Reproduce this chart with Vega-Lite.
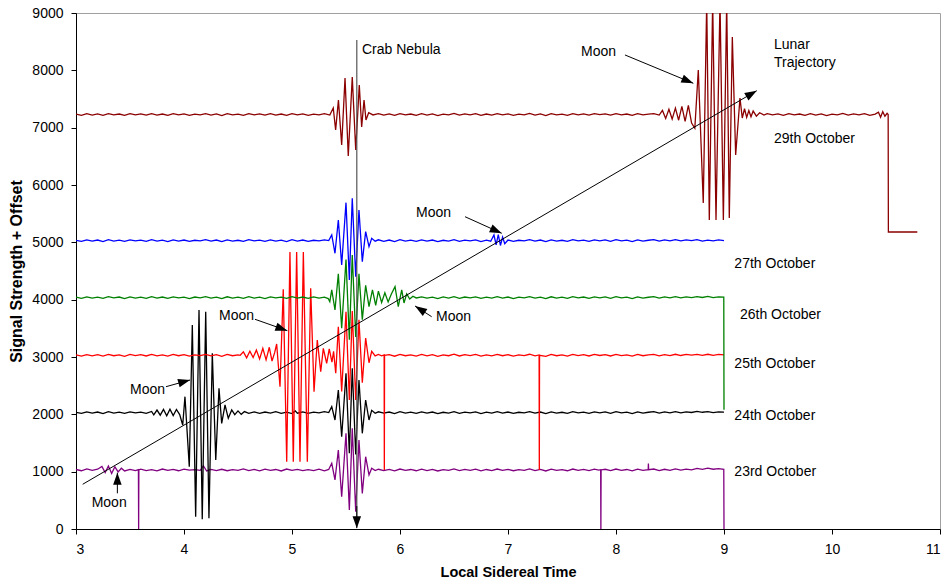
{
"$schema":"https://vega.github.io/schema/vega-lite/v6.json",
"width":864,"height":516,
"autosize":"none",
"padding":{"left":76,"top":13,"right":8,"bottom":57},
"config":{"view":{"stroke":"#a0a0a0","strokeWidth":1},"font":"Liberation Sans",
"axis":{"grid":false,"domainColor":"#000","tickColor":"#000","labelColor":"#000","titleColor":"#000","tickSize":5,"labelFont":"Liberation Sans","titleFont":"Liberation Sans","labelFontSize":14,"titleFontWeight":"bold"}},
"datasets":{
"signal":[
{"s":"23","t":3.00,"v":1038},{"s":"23","t":3.05,"v":1016},{"s":"23","t":3.10,"v":1048},{"s":"23","t":3.15,"v":1024},{"s":"23","t":3.20,"v":1042},
{"s":"23","t":3.24,"v":1090},{"s":"23","t":3.27,"v":985},{"s":"23","t":3.30,"v":1100},{"s":"23","t":3.33,"v":970},{"s":"23","t":3.36,"v":1085},{"s":"23","t":3.39,"v":995},{"s":"23","t":3.42,"v":1060},{"s":"23","t":3.45,"v":1012},
{"s":"23","t":3.50,"v":1040},{"s":"23","t":3.55,"v":1018},{"s":"23","t":3.578,"v":1034},{"s":"23","t":3.58,"v":0},{"s":"23","t":3.582,"v":1030},
{"s":"23","t":3.60,"v":1044},{"s":"23","t":3.65,"v":1020},{"s":"23","t":3.70,"v":1036},{"s":"23","t":3.75,"v":1014},{"s":"23","t":3.80,"v":1046},{"s":"23","t":3.85,"v":1022},{"s":"23","t":3.90,"v":1040},{"s":"23","t":3.95,"v":1016},{"s":"23","t":4.00,"v":1044},{"s":"23","t":4.05,"v":1026},{"s":"23","t":4.10,"v":1034},{"s":"23","t":4.15,"v":1024},{"s":"23","t":4.18,"v":1100},{"s":"23","t":4.21,"v":1012},{"s":"23","t":4.25,"v":1040},{"s":"23","t":4.30,"v":1020},{"s":"23","t":4.35,"v":1042},{"s":"23","t":4.40,"v":1016},{"s":"23","t":4.45,"v":1036},{"s":"23","t":4.50,"v":1022},{"s":"23","t":4.55,"v":1048},{"s":"23","t":4.60,"v":1020},{"s":"23","t":4.65,"v":1040},{"s":"23","t":4.70,"v":1014},{"s":"23","t":4.75,"v":1044},{"s":"23","t":4.80,"v":1024},{"s":"23","t":4.85,"v":1038},{"s":"23","t":4.90,"v":1012},{"s":"23","t":4.95,"v":1046},{"s":"23","t":5.00,"v":1022},{"s":"23","t":5.05,"v":1040},{"s":"23","t":5.10,"v":1018},{"s":"23","t":5.15,"v":1036},{"s":"23","t":5.20,"v":1020},{"s":"23","t":5.25,"v":1044},{"s":"23","t":5.30,"v":1016},{"s":"23","t":5.34,"v":1038},
{"s":"23","t":5.368,"v":1146},{"s":"23","t":5.398,"v":855},{"s":"23","t":5.429,"v":1378},{"s":"23","t":5.460,"v":563},{"s":"23","t":5.500,"v":1669},{"s":"23","t":5.531,"v":331},{"s":"23","t":5.558,"v":1757},{"s":"23","t":5.590,"v":302},{"s":"23","t":5.620,"v":1552},{"s":"23","t":5.651,"v":622},{"s":"23","t":5.682,"v":1261},{"s":"23","t":5.713,"v":942},{"s":"23","t":5.738,"v":1060},
{"s":"23","t":5.77,"v":1018},{"s":"23","t":5.80,"v":1042},{"s":"23","t":5.85,"v":1020},{"s":"23","t":5.90,"v":1040},{"s":"23","t":5.95,"v":1014},{"s":"23","t":6.00,"v":1046},{"s":"23","t":6.05,"v":1022},{"s":"23","t":6.10,"v":1038},{"s":"23","t":6.15,"v":1016},{"s":"23","t":6.20,"v":1044},{"s":"23","t":6.25,"v":1020},{"s":"23","t":6.30,"v":1040},{"s":"23","t":6.35,"v":1012},{"s":"23","t":6.40,"v":1036},{"s":"23","t":6.45,"v":1022},{"s":"23","t":6.50,"v":1048},{"s":"23","t":6.55,"v":1018},{"s":"23","t":6.60,"v":1040},{"s":"23","t":6.65,"v":1024},{"s":"23","t":6.70,"v":1044},{"s":"23","t":6.75,"v":1014},{"s":"23","t":6.80,"v":1038},{"s":"23","t":6.85,"v":1020},{"s":"23","t":6.90,"v":1046},{"s":"23","t":6.95,"v":1022},{"s":"23","t":7.00,"v":1040},{"s":"23","t":7.05,"v":1016},{"s":"23","t":7.10,"v":1036},{"s":"23","t":7.15,"v":1024},{"s":"23","t":7.20,"v":1048},{"s":"23","t":7.25,"v":1020},{"s":"23","t":7.30,"v":1040},{"s":"23","t":7.35,"v":1012},{"s":"23","t":7.40,"v":1044},{"s":"23","t":7.45,"v":1022},{"s":"23","t":7.50,"v":1036},{"s":"23","t":7.55,"v":1016},{"s":"23","t":7.60,"v":1046},{"s":"23","t":7.65,"v":1024},{"s":"23","t":7.70,"v":1040},{"s":"23","t":7.75,"v":1018},{"s":"23","t":7.80,"v":1044},{"s":"23","t":7.84,"v":1026},{"s":"23","t":7.858,"v":1034},{"s":"23","t":7.86,"v":0},{"s":"23","t":7.862,"v":1030},{"s":"23","t":7.90,"v":1042},{"s":"23","t":7.95,"v":1018},{"s":"23","t":8.00,"v":1046},{"s":"23","t":8.05,"v":1024},{"s":"23","t":8.10,"v":1038},{"s":"23","t":8.15,"v":1014},{"s":"23","t":8.20,"v":1044},{"s":"23","t":8.25,"v":1022},{"s":"23","t":8.298,"v":1036},{"s":"23","t":8.30,"v":1140},{"s":"23","t":8.302,"v":1034},{"s":"23","t":8.35,"v":1046},{"s":"23","t":8.40,"v":1020},{"s":"23","t":8.45,"v":1042},{"s":"23","t":8.50,"v":1024},{"s":"23","t":8.55,"v":1048},{"s":"23","t":8.60,"v":1026},{"s":"23","t":8.65,"v":1044},{"s":"23","t":8.70,"v":1032},{"s":"23","t":8.75,"v":1058},{"s":"23","t":8.80,"v":1040},{"s":"23","t":8.85,"v":1062},{"s":"23","t":8.90,"v":1042},{"s":"23","t":8.95,"v":1054},{"s":"23","t":8.998,"v":1040},{"s":"23","t":9.00,"v":0},
{"s":"24","t":3.00,"v":2036},{"s":"24","t":3.05,"v":2016},{"s":"24","t":3.10,"v":2044},{"s":"24","t":3.15,"v":2020},{"s":"24","t":3.20,"v":2040},{"s":"24","t":3.25,"v":2012},{"s":"24","t":3.30,"v":2046},{"s":"24","t":3.35,"v":2022},{"s":"24","t":3.40,"v":2038},{"s":"24","t":3.45,"v":2016},{"s":"24","t":3.50,"v":2044},{"s":"24","t":3.55,"v":2024},{"s":"24","t":3.60,"v":2040},{"s":"24","t":3.65,"v":2018},
{"s":"24","t":3.70,"v":2050},{"s":"24","t":3.72,"v":1990},{"s":"24","t":3.75,"v":2075},{"s":"24","t":3.78,"v":1985},{"s":"24","t":3.81,"v":2085},{"s":"24","t":3.84,"v":1975},{"s":"24","t":3.87,"v":2090},{"s":"24","t":3.90,"v":1980},{"s":"24","t":3.93,"v":2085},{"s":"24","t":3.96,"v":1995},
{"s":"24","t":3.988,"v":1814},{"s":"24","t":4.009,"v":2308},{"s":"24","t":4.049,"v":1087},{"s":"24","t":4.077,"v":3558},{"s":"24","t":4.108,"v":215},{"s":"24","t":4.139,"v":3820},{"s":"24","t":4.169,"v":169},{"s":"24","t":4.201,"v":3790},{"s":"24","t":4.231,"v":187},{"s":"24","t":4.262,"v":3064},{"s":"24","t":4.294,"v":1204},{"s":"24","t":4.324,"v":2454},{"s":"24","t":4.349,"v":1843},{"s":"24","t":4.380,"v":2163},{"s":"24","t":4.410,"v":1931},{"s":"24","t":4.442,"v":2076},
{"s":"24","t":4.47,"v":1995},{"s":"24","t":4.50,"v":2060},{"s":"24","t":4.53,"v":2000},{"s":"24","t":4.56,"v":2048},{"s":"24","t":4.60,"v":2018},{"s":"24","t":4.65,"v":2042},{"s":"24","t":4.70,"v":2016},{"s":"24","t":4.75,"v":2040},{"s":"24","t":4.80,"v":2022},{"s":"24","t":4.85,"v":2046},{"s":"24","t":4.90,"v":2018},{"s":"24","t":4.95,"v":2038},{"s":"24","t":5.00,"v":2014},{"s":"24","t":5.03,"v":2060},{"s":"24","t":5.05,"v":2020},{"s":"24","t":5.10,"v":2042},{"s":"24","t":5.15,"v":2018},{"s":"24","t":5.20,"v":2040},{"s":"24","t":5.25,"v":2024},{"s":"24","t":5.30,"v":2046},{"s":"24","t":5.34,"v":2030},
{"s":"24","t":5.368,"v":2133},{"s":"24","t":5.398,"v":1901},{"s":"24","t":5.429,"v":2425},{"s":"24","t":5.460,"v":1610},{"s":"24","t":5.500,"v":2716},{"s":"24","t":5.531,"v":1320},{"s":"24","t":5.558,"v":2803},{"s":"24","t":5.590,"v":1300},{"s":"24","t":5.620,"v":2599},{"s":"24","t":5.651,"v":1669},{"s":"24","t":5.682,"v":2250},{"s":"24","t":5.713,"v":1901},{"s":"24","t":5.738,"v":2070},
{"s":"24","t":5.77,"v":2018},{"s":"24","t":5.80,"v":2044},{"s":"24","t":5.85,"v":2020},{"s":"24","t":5.90,"v":2040},{"s":"24","t":5.95,"v":2014},{"s":"24","t":6.00,"v":2046},{"s":"24","t":6.05,"v":2022},{"s":"24","t":6.10,"v":2038},{"s":"24","t":6.15,"v":2016},{"s":"24","t":6.20,"v":2044},{"s":"24","t":6.25,"v":2020},{"s":"24","t":6.30,"v":2040},{"s":"24","t":6.35,"v":2012},{"s":"24","t":6.40,"v":2036},{"s":"24","t":6.45,"v":2022},{"s":"24","t":6.50,"v":2048},{"s":"24","t":6.55,"v":2018},{"s":"24","t":6.60,"v":2040},{"s":"24","t":6.65,"v":2024},{"s":"24","t":6.70,"v":2044},{"s":"24","t":6.75,"v":2014},{"s":"24","t":6.80,"v":2038},{"s":"24","t":6.85,"v":2020},{"s":"24","t":6.90,"v":2046},{"s":"24","t":6.95,"v":2022},{"s":"24","t":7.00,"v":2040},{"s":"24","t":7.05,"v":2016},{"s":"24","t":7.10,"v":2036},{"s":"24","t":7.15,"v":2024},{"s":"24","t":7.20,"v":2048},{"s":"24","t":7.25,"v":2020},{"s":"24","t":7.30,"v":2040},{"s":"24","t":7.35,"v":2012},{"s":"24","t":7.40,"v":2044},{"s":"24","t":7.45,"v":2022},{"s":"24","t":7.50,"v":2036},{"s":"24","t":7.55,"v":2016},{"s":"24","t":7.60,"v":2046},{"s":"24","t":7.65,"v":2024},{"s":"24","t":7.70,"v":2040},{"s":"24","t":7.75,"v":2018},{"s":"24","t":7.80,"v":2044},{"s":"24","t":7.85,"v":2026},{"s":"24","t":7.90,"v":2042},{"s":"24","t":7.95,"v":2018},{"s":"24","t":8.00,"v":2046},{"s":"24","t":8.05,"v":2024},{"s":"24","t":8.10,"v":2038},{"s":"24","t":8.15,"v":2014},{"s":"24","t":8.20,"v":2044},{"s":"24","t":8.25,"v":2022},{"s":"24","t":8.30,"v":2036},{"s":"24","t":8.35,"v":2046},{"s":"24","t":8.40,"v":2020},{"s":"24","t":8.45,"v":2042},{"s":"24","t":8.50,"v":2024},{"s":"24","t":8.55,"v":2048},{"s":"24","t":8.60,"v":2026},{"s":"24","t":8.65,"v":2044},{"s":"24","t":8.70,"v":2032},{"s":"24","t":8.75,"v":2050},{"s":"24","t":8.80,"v":2036},{"s":"24","t":8.85,"v":2048},{"s":"24","t":8.90,"v":2030},{"s":"24","t":8.95,"v":2044},{"s":"24","t":9.00,"v":2040},
{"s":"25","t":3.00,"v":3036},{"s":"25","t":3.05,"v":3014},{"s":"25","t":3.10,"v":3042},{"s":"25","t":3.15,"v":3020},{"s":"25","t":3.20,"v":3040},{"s":"25","t":3.25,"v":3016},{"s":"25","t":3.30,"v":3046},{"s":"25","t":3.35,"v":3022},{"s":"25","t":3.40,"v":3038},{"s":"25","t":3.45,"v":3012},{"s":"25","t":3.50,"v":3044},{"s":"25","t":3.55,"v":3024},{"s":"25","t":3.60,"v":3040},{"s":"25","t":3.65,"v":3018},{"s":"25","t":3.70,"v":3046},{"s":"25","t":3.75,"v":3020},{"s":"25","t":3.80,"v":3038},{"s":"25","t":3.85,"v":3016},{"s":"25","t":3.90,"v":3044},{"s":"25","t":3.95,"v":3022},{"s":"25","t":4.00,"v":3040},{"s":"25","t":4.05,"v":3014},{"s":"25","t":4.10,"v":3036},{"s":"25","t":4.15,"v":3024},{"s":"25","t":4.20,"v":3046},{"s":"25","t":4.25,"v":3020},{"s":"25","t":4.30,"v":3040},{"s":"25","t":4.35,"v":3012},{"s":"25","t":4.40,"v":3044},{"s":"25","t":4.45,"v":3022},{"s":"25","t":4.50,"v":3036},
{"s":"25","t":4.52,"v":3030},{"s":"25","t":4.55,"v":3090},{"s":"25","t":4.58,"v":2985},{"s":"25","t":4.61,"v":3100},{"s":"25","t":4.64,"v":2990},{"s":"25","t":4.67,"v":3120},{"s":"25","t":4.70,"v":2965},{"s":"25","t":4.73,"v":3150},{"s":"25","t":4.76,"v":2950},{"s":"25","t":4.79,"v":3170},{"s":"25","t":4.815,"v":2930},{"s":"25","t":4.84,"v":3080},
{"s":"25","t":4.858,"v":3227},{"s":"25","t":4.889,"v":2482},{"s":"25","t":4.919,"v":4181},{"s":"25","t":4.951,"v":1174},{"s":"25","t":4.981,"v":4830},{"s":"25","t":5.012,"v":1174},{"s":"25","t":5.043,"v":4830},{"s":"25","t":5.074,"v":1174},{"s":"25","t":5.105,"v":4830},{"s":"25","t":5.142,"v":1174},{"s":"25","t":5.173,"v":4198},{"s":"25","t":5.204,"v":2395},{"s":"25","t":5.234,"v":3297},{"s":"25","t":5.266,"v":2744},{"s":"25","t":5.290,"v":3152},{"s":"25","t":5.321,"v":2890},{"s":"25","t":5.345,"v":3140},{"s":"25","t":5.370,"v":2910},{"s":"25","t":5.385,"v":3100},
{"s":"25","t":5.405,"v":2716},{"s":"25","t":5.429,"v":3529},{"s":"25","t":5.460,"v":2400},{"s":"25","t":5.500,"v":3790},{"s":"25","t":5.531,"v":2250},{"s":"25","t":5.558,"v":3800},{"s":"25","t":5.590,"v":2250},{"s":"25","t":5.620,"v":3650},{"s":"25","t":5.651,"v":2550},{"s":"25","t":5.682,"v":3330},{"s":"25","t":5.713,"v":2900},{"s":"25","t":5.738,"v":3100},{"s":"25","t":5.77,"v":3020},
{"s":"25","t":5.80,"v":3044},{"s":"25","t":5.83,"v":3020},{"s":"25","t":5.853,"v":3036},{"s":"25","t":5.855,"v":1030},{"s":"25","t":5.857,"v":3030},{"s":"25","t":5.90,"v":3040},{"s":"25","t":5.95,"v":3014},{"s":"25","t":6.00,"v":3046},{"s":"25","t":6.05,"v":3022},{"s":"25","t":6.10,"v":3038},{"s":"25","t":6.15,"v":3016},{"s":"25","t":6.20,"v":3044},{"s":"25","t":6.25,"v":3020},{"s":"25","t":6.30,"v":3040},{"s":"25","t":6.35,"v":3012},{"s":"25","t":6.40,"v":3036},{"s":"25","t":6.45,"v":3022},{"s":"25","t":6.50,"v":3048},{"s":"25","t":6.55,"v":3018},{"s":"25","t":6.60,"v":3040},{"s":"25","t":6.65,"v":3024},{"s":"25","t":6.70,"v":3044},{"s":"25","t":6.75,"v":3014},{"s":"25","t":6.80,"v":3038},{"s":"25","t":6.85,"v":3020},{"s":"25","t":6.90,"v":3046},{"s":"25","t":6.95,"v":3022},{"s":"25","t":7.00,"v":3040},{"s":"25","t":7.05,"v":3016},{"s":"25","t":7.10,"v":3036},{"s":"25","t":7.15,"v":3024},{"s":"25","t":7.20,"v":3048},{"s":"25","t":7.25,"v":3020},{"s":"25","t":7.288,"v":3036},{"s":"25","t":7.29,"v":1030},{"s":"25","t":7.292,"v":3030},{"s":"25","t":7.35,"v":3012},{"s":"25","t":7.40,"v":3044},{"s":"25","t":7.45,"v":3022},{"s":"25","t":7.50,"v":3036},{"s":"25","t":7.55,"v":3016},{"s":"25","t":7.60,"v":3046},{"s":"25","t":7.65,"v":3024},{"s":"25","t":7.70,"v":3040},{"s":"25","t":7.75,"v":3018},{"s":"25","t":7.80,"v":3044},{"s":"25","t":7.85,"v":3026},{"s":"25","t":7.90,"v":3042},{"s":"25","t":7.95,"v":3018},{"s":"25","t":8.00,"v":3046},{"s":"25","t":8.05,"v":3024},{"s":"25","t":8.10,"v":3038},{"s":"25","t":8.15,"v":3014},{"s":"25","t":8.20,"v":3044},{"s":"25","t":8.25,"v":3022},{"s":"25","t":8.30,"v":3036},{"s":"25","t":8.35,"v":3046},{"s":"25","t":8.40,"v":3020},{"s":"25","t":8.45,"v":3042},{"s":"25","t":8.50,"v":3024},{"s":"25","t":8.55,"v":3048},{"s":"25","t":8.60,"v":3026},{"s":"25","t":8.65,"v":3044},{"s":"25","t":8.70,"v":3032},{"s":"25","t":8.75,"v":3046},{"s":"25","t":8.80,"v":3030},{"s":"25","t":8.85,"v":3048},{"s":"25","t":8.90,"v":3028},{"s":"25","t":8.95,"v":3044},{"s":"25","t":9.00,"v":3036},
{"s":"26","t":3.00,"v":4046},{"s":"26","t":3.05,"v":4024},{"s":"26","t":3.10,"v":4050},{"s":"26","t":3.15,"v":4028},{"s":"26","t":3.20,"v":4044},{"s":"26","t":3.25,"v":4022},{"s":"26","t":3.30,"v":4052},{"s":"26","t":3.35,"v":4030},{"s":"26","t":3.40,"v":4046},{"s":"26","t":3.45,"v":4020},{"s":"26","t":3.50,"v":4050},{"s":"26","t":3.55,"v":4028},{"s":"26","t":3.60,"v":4044},{"s":"26","t":3.65,"v":4024},{"s":"26","t":3.70,"v":4052},{"s":"26","t":3.75,"v":4026},{"s":"26","t":3.80,"v":4046},{"s":"26","t":3.85,"v":4022},{"s":"26","t":3.90,"v":4050},{"s":"26","t":3.95,"v":4030},{"s":"26","t":4.00,"v":4044},{"s":"26","t":4.05,"v":4020},{"s":"26","t":4.10,"v":4046},{"s":"26","t":4.15,"v":4030},{"s":"26","t":4.20,"v":4052},{"s":"26","t":4.25,"v":4026},{"s":"26","t":4.30,"v":4044},{"s":"26","t":4.35,"v":4018},{"s":"26","t":4.40,"v":4050},{"s":"26","t":4.45,"v":4028},{"s":"26","t":4.50,"v":4044},{"s":"26","t":4.55,"v":4024},{"s":"26","t":4.60,"v":4054},{"s":"26","t":4.65,"v":4026},{"s":"26","t":4.70,"v":4044},{"s":"26","t":4.75,"v":4020},{"s":"26","t":4.80,"v":4050},{"s":"26","t":4.85,"v":4030},{"s":"26","t":4.90,"v":4044},{"s":"26","t":4.95,"v":4022},{"s":"26","t":5.00,"v":4052},{"s":"26","t":5.05,"v":4028},{"s":"26","t":5.10,"v":4046},{"s":"26","t":5.15,"v":4024},{"s":"26","t":5.20,"v":4050},{"s":"26","t":5.25,"v":4026},{"s":"26","t":5.30,"v":4044},{"s":"26","t":5.335,"v":4020},
{"s":"26","t":5.35,"v":3965},{"s":"26","t":5.368,"v":4169},{"s":"26","t":5.398,"v":3820},{"s":"26","t":5.429,"v":4450},{"s":"26","t":5.460,"v":3500},{"s":"26","t":5.500,"v":4700},{"s":"26","t":5.531,"v":3300},{"s":"26","t":5.558,"v":4780},{"s":"26","t":5.590,"v":3350},{"s":"26","t":5.620,"v":4450},{"s":"26","t":5.651,"v":3650},{"s":"26","t":5.682,"v":4250},{"s":"26","t":5.713,"v":3880},{"s":"26","t":5.745,"v":4170},{"s":"26","t":5.775,"v":3900},{"s":"26","t":5.80,"v":4150},{"s":"26","t":5.83,"v":3950},{"s":"26","t":5.86,"v":4120},{"s":"26","t":5.89,"v":3960},{"s":"26","t":5.92,"v":4100},{"s":"26","t":5.954,"v":4227},{"s":"26","t":5.984,"v":3878},{"s":"26","t":6.016,"v":4169},{"s":"26","t":6.037,"v":3942},{"s":"26","t":6.062,"v":4100},{"s":"26","t":6.09,"v":4010},{"s":"26","t":6.12,"v":4060},{"s":"26","t":6.15,"v":4030},
{"s":"26","t":6.20,"v":4050},{"s":"26","t":6.25,"v":4026},{"s":"26","t":6.30,"v":4044},{"s":"26","t":6.35,"v":4020},{"s":"26","t":6.40,"v":4048},{"s":"26","t":6.45,"v":4028},{"s":"26","t":6.50,"v":4052},{"s":"26","t":6.55,"v":4024},{"s":"26","t":6.60,"v":4046},{"s":"26","t":6.65,"v":4030},{"s":"26","t":6.70,"v":4050},{"s":"26","t":6.75,"v":4022},{"s":"26","t":6.80,"v":4044},{"s":"26","t":6.85,"v":4026},{"s":"26","t":6.90,"v":4052},{"s":"26","t":6.95,"v":4028},{"s":"26","t":7.00,"v":4046},{"s":"26","t":7.05,"v":4020},{"s":"26","t":7.10,"v":4044},{"s":"26","t":7.15,"v":4030},{"s":"26","t":7.20,"v":4054},{"s":"26","t":7.25,"v":4026},{"s":"26","t":7.30,"v":4044},{"s":"26","t":7.35,"v":4018},{"s":"26","t":7.40,"v":4050},{"s":"26","t":7.45,"v":4028},{"s":"26","t":7.50,"v":4044},{"s":"26","t":7.55,"v":4022},{"s":"26","t":7.60,"v":4052},{"s":"26","t":7.65,"v":4030},{"s":"26","t":7.70,"v":4046},{"s":"26","t":7.75,"v":4024},{"s":"26","t":7.80,"v":4050},{"s":"26","t":7.85,"v":4032},{"s":"26","t":7.90,"v":4048},{"s":"26","t":7.95,"v":4024},{"s":"26","t":8.00,"v":4052},{"s":"26","t":8.05,"v":4030},{"s":"26","t":8.10,"v":4044},{"s":"26","t":8.15,"v":4020},{"s":"26","t":8.20,"v":4050},{"s":"26","t":8.25,"v":4028},{"s":"26","t":8.30,"v":4042},{"s":"26","t":8.35,"v":4052},{"s":"26","t":8.40,"v":4026},{"s":"26","t":8.45,"v":4048},{"s":"26","t":8.50,"v":4030},{"s":"26","t":8.55,"v":4054},{"s":"26","t":8.60,"v":4032},{"s":"26","t":8.65,"v":4050},{"s":"26","t":8.70,"v":4036},{"s":"26","t":8.75,"v":4054},{"s":"26","t":8.80,"v":4038},{"s":"26","t":8.85,"v":4056},{"s":"26","t":8.90,"v":4036},{"s":"26","t":8.95,"v":4050},{"s":"26","t":8.998,"v":4046},{"s":"26","t":9.00,"v":2080},
{"s":"27","t":3.00,"v":5036},{"s":"27","t":3.05,"v":5016},{"s":"27","t":3.10,"v":5044},{"s":"27","t":3.15,"v":5020},{"s":"27","t":3.20,"v":5040},{"s":"27","t":3.25,"v":5014},{"s":"27","t":3.30,"v":5046},{"s":"27","t":3.35,"v":5022},{"s":"27","t":3.40,"v":5038},{"s":"27","t":3.45,"v":5016},{"s":"27","t":3.50,"v":5044},{"s":"27","t":3.55,"v":5024},{"s":"27","t":3.60,"v":5040},{"s":"27","t":3.65,"v":5018},{"s":"27","t":3.70,"v":5046},{"s":"27","t":3.75,"v":5020},{"s":"27","t":3.80,"v":5038},{"s":"27","t":3.85,"v":5014},{"s":"27","t":3.90,"v":5044},{"s":"27","t":3.95,"v":5022},{"s":"27","t":4.00,"v":5040},{"s":"27","t":4.05,"v":5016},{"s":"27","t":4.10,"v":5036},{"s":"27","t":4.15,"v":5024},{"s":"27","t":4.20,"v":5046},{"s":"27","t":4.25,"v":5020},{"s":"27","t":4.30,"v":5040},{"s":"27","t":4.35,"v":5012},{"s":"27","t":4.40,"v":5044},{"s":"27","t":4.45,"v":5022},{"s":"27","t":4.50,"v":5036},{"s":"27","t":4.55,"v":5016},{"s":"27","t":4.60,"v":5046},{"s":"27","t":4.65,"v":5024},{"s":"27","t":4.70,"v":5040},{"s":"27","t":4.75,"v":5018},{"s":"27","t":4.80,"v":5044},{"s":"27","t":4.85,"v":5020},{"s":"27","t":4.90,"v":5038},{"s":"27","t":4.95,"v":5014},{"s":"27","t":5.00,"v":5046},{"s":"27","t":5.05,"v":5022},{"s":"27","t":5.10,"v":5040},{"s":"27","t":5.15,"v":5016},{"s":"27","t":5.20,"v":5036},{"s":"27","t":5.25,"v":5024},{"s":"27","t":5.30,"v":5044},{"s":"27","t":5.34,"v":5030},
{"s":"27","t":5.368,"v":5128},{"s":"27","t":5.398,"v":4809},{"s":"27","t":5.429,"v":5390},{"s":"27","t":5.460,"v":4605},{"s":"27","t":5.500,"v":5692},{"s":"27","t":5.531,"v":4343},{"s":"27","t":5.558,"v":5768},{"s":"27","t":5.590,"v":4401},{"s":"27","t":5.620,"v":5564},{"s":"27","t":5.651,"v":4663},{"s":"27","t":5.682,"v":5186},{"s":"27","t":5.713,"v":4925},{"s":"27","t":5.738,"v":5070},
{"s":"27","t":5.77,"v":5020},{"s":"27","t":5.80,"v":5044},{"s":"27","t":5.85,"v":5018},{"s":"27","t":5.90,"v":5040},{"s":"27","t":5.95,"v":5014},{"s":"27","t":6.00,"v":5046},{"s":"27","t":6.05,"v":5022},{"s":"27","t":6.10,"v":5038},{"s":"27","t":6.15,"v":5016},{"s":"27","t":6.20,"v":5044},{"s":"27","t":6.25,"v":5020},{"s":"27","t":6.30,"v":5040},{"s":"27","t":6.35,"v":5012},{"s":"27","t":6.40,"v":5036},{"s":"27","t":6.45,"v":5022},{"s":"27","t":6.50,"v":5048},{"s":"27","t":6.55,"v":5018},{"s":"27","t":6.60,"v":5040},{"s":"27","t":6.65,"v":5024},{"s":"27","t":6.70,"v":5044},{"s":"27","t":6.75,"v":5014},{"s":"27","t":6.80,"v":5038},{"s":"27","t":6.84,"v":5020},
{"s":"27","t":6.87,"v":5128},{"s":"27","t":6.89,"v":4954},{"s":"27","t":6.91,"v":5135},{"s":"27","t":6.93,"v":4945},{"s":"27","t":6.95,"v":5090},{"s":"27","t":6.97,"v":4975},{"s":"27","t":7.00,"v":5040},
{"s":"27","t":7.05,"v":5016},{"s":"27","t":7.10,"v":5036},{"s":"27","t":7.15,"v":5024},{"s":"27","t":7.20,"v":5048},{"s":"27","t":7.25,"v":5020},{"s":"27","t":7.30,"v":5040},{"s":"27","t":7.35,"v":5012},{"s":"27","t":7.40,"v":5044},{"s":"27","t":7.45,"v":5022},{"s":"27","t":7.50,"v":5036},{"s":"27","t":7.55,"v":5016},{"s":"27","t":7.60,"v":5046},{"s":"27","t":7.65,"v":5024},{"s":"27","t":7.70,"v":5040},{"s":"27","t":7.75,"v":5018},{"s":"27","t":7.80,"v":5044},{"s":"27","t":7.85,"v":5026},{"s":"27","t":7.90,"v":5042},{"s":"27","t":7.95,"v":5018},{"s":"27","t":8.00,"v":5046},{"s":"27","t":8.05,"v":5024},{"s":"27","t":8.10,"v":5038},{"s":"27","t":8.15,"v":5014},{"s":"27","t":8.20,"v":5044},{"s":"27","t":8.25,"v":5022},{"s":"27","t":8.30,"v":5036},{"s":"27","t":8.35,"v":5046},{"s":"27","t":8.40,"v":5020},{"s":"27","t":8.45,"v":5042},{"s":"27","t":8.50,"v":5024},{"s":"27","t":8.55,"v":5048},{"s":"27","t":8.60,"v":5026},{"s":"27","t":8.65,"v":5044},{"s":"27","t":8.70,"v":5030},{"s":"27","t":8.75,"v":5046},{"s":"27","t":8.80,"v":5022},{"s":"27","t":8.85,"v":5040},{"s":"27","t":8.90,"v":5026},{"s":"27","t":8.95,"v":5044},{"s":"27","t":9.00,"v":5030},
{"s":"29","t":3.00,"v":7236},{"s":"29","t":3.05,"v":7214},{"s":"29","t":3.10,"v":7244},{"s":"29","t":3.15,"v":7220},{"s":"29","t":3.20,"v":7240},{"s":"29","t":3.25,"v":7216},{"s":"29","t":3.30,"v":7246},{"s":"29","t":3.35,"v":7222},{"s":"29","t":3.40,"v":7238},{"s":"29","t":3.45,"v":7214},{"s":"29","t":3.50,"v":7244},{"s":"29","t":3.55,"v":7224},{"s":"29","t":3.60,"v":7240},{"s":"29","t":3.65,"v":7218},{"s":"29","t":3.70,"v":7246},{"s":"29","t":3.75,"v":7220},{"s":"29","t":3.80,"v":7238},{"s":"29","t":3.85,"v":7216},{"s":"29","t":3.90,"v":7244},{"s":"29","t":3.95,"v":7222},{"s":"29","t":4.00,"v":7240},{"s":"29","t":4.05,"v":7214},{"s":"29","t":4.10,"v":7236},{"s":"29","t":4.15,"v":7224},{"s":"29","t":4.20,"v":7246},{"s":"29","t":4.25,"v":7220},{"s":"29","t":4.30,"v":7240},{"s":"29","t":4.35,"v":7212},{"s":"29","t":4.40,"v":7244},{"s":"29","t":4.45,"v":7222},{"s":"29","t":4.50,"v":7236},{"s":"29","t":4.55,"v":7216},{"s":"29","t":4.60,"v":7246},{"s":"29","t":4.65,"v":7224},{"s":"29","t":4.70,"v":7240},{"s":"29","t":4.75,"v":7218},{"s":"29","t":4.80,"v":7244},{"s":"29","t":4.85,"v":7220},{"s":"29","t":4.90,"v":7238},{"s":"29","t":4.95,"v":7214},{"s":"29","t":5.00,"v":7246},{"s":"29","t":5.05,"v":7222},{"s":"29","t":5.10,"v":7240},{"s":"29","t":5.15,"v":7216},{"s":"29","t":5.20,"v":7236},{"s":"29","t":5.25,"v":7224},{"s":"29","t":5.30,"v":7244},{"s":"29","t":5.35,"v":7220},
{"s":"29","t":5.382,"v":7343},{"s":"29","t":5.404,"v":6960},{"s":"29","t":5.430,"v":7480},{"s":"29","t":5.460,"v":6698},{"s":"29","t":5.491,"v":7867},{"s":"29","t":5.521,"v":6506},{"s":"29","t":5.558,"v":7884},{"s":"29","t":5.590,"v":6611},{"s":"29","t":5.623,"v":7745},{"s":"29","t":5.645,"v":7012},{"s":"29","t":5.667,"v":7483},{"s":"29","t":5.685,"v":7134},{"s":"29","t":5.71,"v":7260},
{"s":"29","t":5.75,"v":7222},{"s":"29","t":5.80,"v":7244},{"s":"29","t":5.85,"v":7218},{"s":"29","t":5.90,"v":7240},{"s":"29","t":5.95,"v":7214},{"s":"29","t":6.00,"v":7246},{"s":"29","t":6.05,"v":7222},{"s":"29","t":6.10,"v":7238},{"s":"29","t":6.15,"v":7216},{"s":"29","t":6.20,"v":7244},{"s":"29","t":6.25,"v":7220},{"s":"29","t":6.30,"v":7240},{"s":"29","t":6.35,"v":7212},{"s":"29","t":6.40,"v":7236},{"s":"29","t":6.45,"v":7222},{"s":"29","t":6.50,"v":7248},{"s":"29","t":6.55,"v":7218},{"s":"29","t":6.60,"v":7240},{"s":"29","t":6.65,"v":7224},{"s":"29","t":6.70,"v":7244},{"s":"29","t":6.75,"v":7214},{"s":"29","t":6.80,"v":7238},{"s":"29","t":6.85,"v":7220},{"s":"29","t":6.90,"v":7246},{"s":"29","t":6.95,"v":7222},{"s":"29","t":7.00,"v":7240},{"s":"29","t":7.05,"v":7216},{"s":"29","t":7.10,"v":7236},{"s":"29","t":7.15,"v":7224},{"s":"29","t":7.20,"v":7248},{"s":"29","t":7.25,"v":7220},{"s":"29","t":7.30,"v":7240},{"s":"29","t":7.35,"v":7212},{"s":"29","t":7.40,"v":7244},{"s":"29","t":7.45,"v":7222},{"s":"29","t":7.50,"v":7236},{"s":"29","t":7.55,"v":7216},{"s":"29","t":7.60,"v":7246},{"s":"29","t":7.65,"v":7224},{"s":"29","t":7.70,"v":7240},{"s":"29","t":7.75,"v":7218},{"s":"29","t":7.80,"v":7244},{"s":"29","t":7.85,"v":7226},{"s":"29","t":7.90,"v":7242},{"s":"29","t":7.95,"v":7218},{"s":"29","t":8.00,"v":7246},{"s":"29","t":8.05,"v":7224},{"s":"29","t":8.10,"v":7238},{"s":"29","t":8.15,"v":7214},{"s":"29","t":8.20,"v":7244},{"s":"29","t":8.25,"v":7222},{"s":"29","t":8.30,"v":7236},{"s":"29","t":8.35,"v":7246},{"s":"29","t":8.40,"v":7220},
{"s":"29","t":8.43,"v":7300},{"s":"29","t":8.46,"v":7160},{"s":"29","t":8.49,"v":7320},{"s":"29","t":8.52,"v":7150},{"s":"29","t":8.55,"v":7340},{"s":"29","t":8.58,"v":7130},{"s":"29","t":8.61,"v":7370},{"s":"29","t":8.64,"v":7110},{"s":"29","t":8.67,"v":7390},{"s":"29","t":8.70,"v":7080},{"s":"29","t":8.73,"v":6990},
{"s":"29","t":8.762,"v":8006},{"s":"29","t":8.808,"v":5686},{"s":"29","t":8.840,"v":9200},{"s":"29","t":8.864,"v":5390},{"s":"29","t":8.895,"v":9200},{"s":"29","t":8.926,"v":5390},{"s":"29","t":8.963,"v":9200},{"s":"29","t":8.994,"v":5390},{"s":"29","t":9.025,"v":9200},{"s":"29","t":9.049,"v":5425},{"s":"29","t":9.077,"v":8582},{"s":"29","t":9.108,"v":6524},{"s":"29","t":9.148,"v":7518},{"s":"29","t":9.169,"v":7169},
{"s":"29","t":9.19,"v":7330},{"s":"29","t":9.21,"v":7180},{"s":"29","t":9.23,"v":7300},{"s":"29","t":9.25,"v":7190},{"s":"29","t":9.27,"v":7290},{"s":"29","t":9.30,"v":7200},{"s":"29","t":9.33,"v":7260},
{"s":"29","t":9.37,"v":7220},{"s":"29","t":9.40,"v":7246},{"s":"29","t":9.45,"v":7222},{"s":"29","t":9.50,"v":7240},{"s":"29","t":9.55,"v":7214},{"s":"29","t":9.60,"v":7246},{"s":"29","t":9.65,"v":7222},{"s":"29","t":9.70,"v":7238},{"s":"29","t":9.75,"v":7216},{"s":"29","t":9.80,"v":7244},{"s":"29","t":9.85,"v":7220},{"s":"29","t":9.90,"v":7240},{"s":"29","t":9.95,"v":7212},{"s":"29","t":10.00,"v":7236},{"s":"29","t":10.05,"v":7222},{"s":"29","t":10.10,"v":7248},{"s":"29","t":10.15,"v":7218},{"s":"29","t":10.20,"v":7240},{"s":"29","t":10.25,"v":7224},{"s":"29","t":10.30,"v":7244},{"s":"29","t":10.35,"v":7214},{"s":"29","t":10.40,"v":7238},{"s":"29","t":10.43,"v":7270},{"s":"29","t":10.45,"v":7180},{"s":"29","t":10.47,"v":7280},{"s":"29","t":10.49,"v":7200},{"s":"29","t":10.51,"v":7250},{"s":"29","t":10.52,"v":7230},{"s":"29","t":10.522,"v":5180},{"s":"29","t":10.79,"v":5180}
],
"crab":[{"t":5.6,"v":8530,"v2":200}],
"arrows":[
{"t":8.083,"v":8268,"t2":8.716,"v2":7774},
{"t":3.062,"v":780,"t2":9.303,"v2":7645},
{"t":6.602,"v":5447,"t2":6.942,"v2":5158},
{"t":6.293,"v":3703,"t2":6.139,"v2":3890},
{"t":4.657,"v":3658,"t2":4.957,"v2":3459},
{"t":3.833,"v":2482,"t2":4.056,"v2":2599},
{"t":3.383,"v":622,"t2":3.383,"v2":982},
{"t":5.6,"v":400,"t2":5.6,"v2":15}
],
"labels":[
{"t":5.648,"v":8355,"label":"Crab Nebula"},
{"t":7.676,"v":8320,"label":"Moon"},
{"t":9.463,"v":8442,"label":"Lunar"},
{"t":9.463,"v":8128,"label":"Trajectory"},
{"t":6.148,"v":5507,"label":"Moon"},
{"t":6.333,"v":3703,"label":"Moon"},
{"t":4.324,"v":3715,"label":"Moon"},
{"t":3.5,"v":2425,"label":"Moon"},
{"t":3.145,"v":459,"label":"Moon"},
{"t":9.463,"v":6797,"label":"29th October"},
{"t":9.096,"v":4622,"label":"27th October"},
{"t":9.148,"v":3733,"label":"26th October"},
{"t":9.096,"v":2873,"label":"25th October"},
{"t":9.096,"v":1971,"label":"24th October"},
{"t":9.096,"v":1000,"label":"23rd October"}
]
},
"layer":[
{"data":{"name":"signal"},
"mark":{"type":"line","clip":true,"strokeWidth":1.3},
"encoding":{
"x":{"field":"t","type":"quantitative","scale":{"domain":[3,11],"nice":false,"zero":false},
"axis":{"title":"Local Sidereal Time","values":[3,4,5,6,7,8,9,10,11],"format":"d","labelPadding":8,"titlePadding":9,"titleFontSize":14.5}},
"y":{"field":"v","type":"quantitative","scale":{"domain":[0,9000],"nice":false},
"axis":{"title":"Signal Strength + Offset","values":[0,1000,2000,3000,4000,5000,6000,7000,8000,9000],"format":"d","labelPadding":8,"titlePadding":7,"titleFontSize":16}},
"color":{"field":"s","type":"nominal","legend":null,
"scale":{"domain":["23","24","25","26","27","29"],"range":["#800080","#000000","#ff0000","#008000","#0000ff","#8b0000"]}}}},
{"data":{"name":"crab"},
"mark":{"type":"rule","color":"#555555","strokeWidth":1.2},
"encoding":{"x":{"field":"t","type":"quantitative"},"y":{"field":"v","type":"quantitative"},"y2":{"field":"v2"}}},
{"data":{"name":"arrows"},
"mark":{"type":"rule","color":"#000000","strokeWidth":1},
"encoding":{"x":{"field":"t","type":"quantitative"},"y":{"field":"v","type":"quantitative"},"x2":{"field":"t2"},"y2":{"field":"v2"}}},
{"data":{"name":"arrows"},
"transform":[{"calculate":"atan2((datum.t2-datum.t)*108,(datum.v2-datum.v)*0.05733)*180/PI","as":"ang"}],
"mark":{"type":"point","shape":"M0,0L-0.85,2.4L0.85,2.4Z","filled":true,"color":"#000000","size":100,"opacity":1,"strokeWidth":0},
"encoding":{"x":{"field":"t2","type":"quantitative"},"y":{"field":"v2","type":"quantitative"},"angle":{"field":"ang","type":"quantitative","scale":null}}},
{"data":{"name":"labels"},
"mark":{"type":"text","align":"left","baseline":"middle","fontSize":14,"font":"Liberation Sans","color":"#000000"},
"encoding":{"x":{"field":"t","type":"quantitative"},"y":{"field":"v","type":"quantitative"},"text":{"field":"label"}}}
]
}
